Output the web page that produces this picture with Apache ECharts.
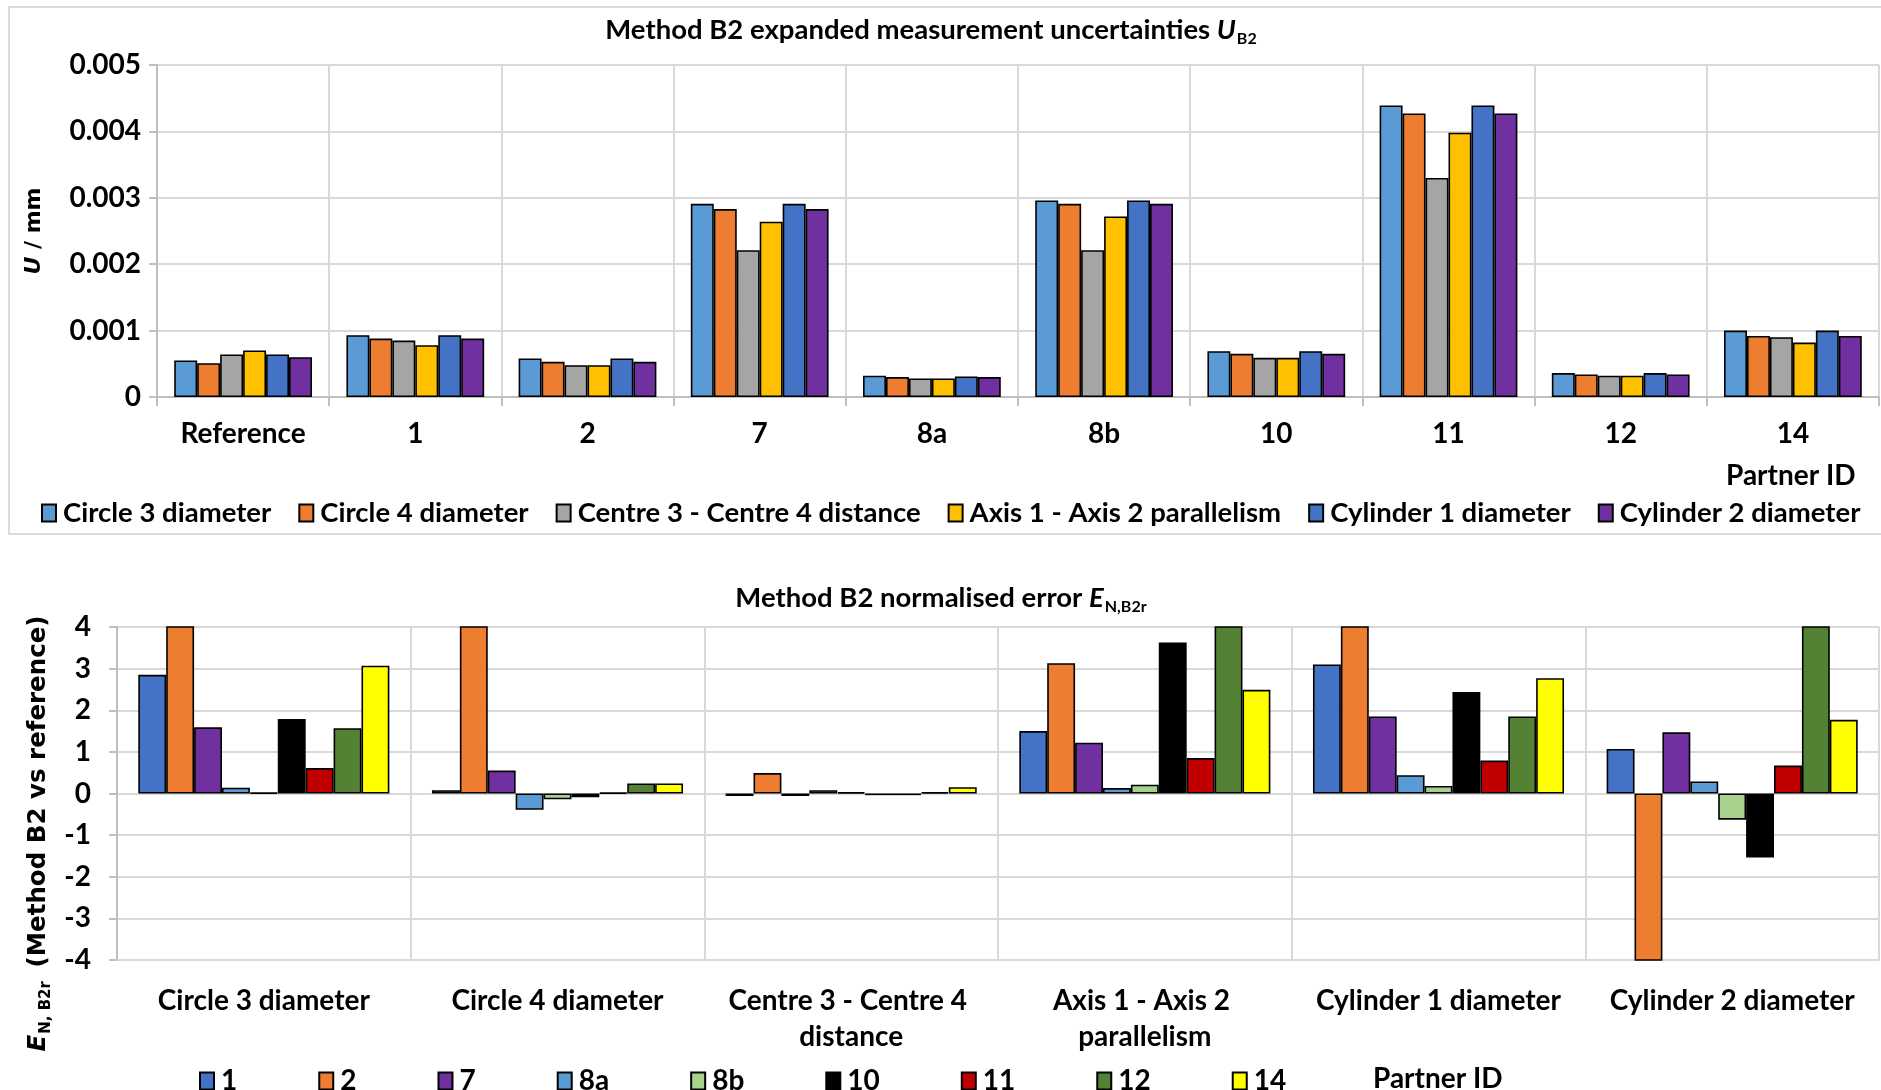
<!DOCTYPE html>
<html>
<head>
<meta charset="utf-8">
<script src="https://cdn.jsdelivr.net/npm/echarts@6/dist/echarts.min.js"></script>
<style>
html,body{margin:0;padding:0;background:#fff;}
#c{width:1881px;height:1090px;}
</style>
</head>
<body>
<div id="c"></div>
<script>
// ---------- Top chart data ----------
const partnersTop = ['Reference', '1', '2', '7', '8a', '8b', '10', '11', '12', '14'];
const measurands = ['Circle 3 diameter', 'Circle 4 diameter', 'Centre 3 - Centre 4 distance', 'Axis 1 - Axis 2 parallelism', 'Cylinder 1 diameter', 'Cylinder 2 diameter'];
const uCircle3  = [0.00055, 0.00093, 0.00058, 0.00291, 0.00032, 0.00296, 0.00069, 0.00439, 0.00036, 0.00100];
const uCircle4  = [0.00051, 0.00088, 0.00053, 0.00283, 0.00030, 0.00291, 0.00065, 0.00427, 0.00034, 0.00092];
const uCentre   = [0.00064, 0.00085, 0.00048, 0.00221, 0.00028, 0.00221, 0.00059, 0.00330, 0.00032, 0.00090];
const uAxis     = [0.00070, 0.00078, 0.00048, 0.00264, 0.00028, 0.00272, 0.00059, 0.00398, 0.00032, 0.00082];
const uCyl1     = [0.00064, 0.00093, 0.00058, 0.00291, 0.00031, 0.00296, 0.00069, 0.00439, 0.00036, 0.00100];
const uCyl2     = [0.00060, 0.00088, 0.00053, 0.00283, 0.00030, 0.00291, 0.00065, 0.00427, 0.00034, 0.00092];
const topColors = ['#5B9BD5', '#ED7D31', '#A5A5A5', '#FFC000', '#4472C4', '#7030A0'];

// ---------- Bottom chart data (values beyond ±4 are clipped in the original) ----------
const partnersBottom = ['1', '2', '7', '8a', '8b', '10', '11', '12', '14'];
const en1   = [2.85, 0.08, -0.06, 1.50, 3.10, 1.07];
const en2   = [6.00, 6.00, 0.49, 3.13, 6.00, -6.00];
const en7   = [1.59, 0.55, -0.06, 1.22, 1.85, 1.47];
const en8a  = [0.14, -0.39, 0.08, 0.13, 0.44, 0.29];
const en8b  = [0.02, -0.14, 0.03, 0.21, 0.18, -0.63];
const en10  = [1.79, -0.09, -0.04, 3.63, 2.44, -1.54];
const en11  = [0.61, 0.02, -0.04, 0.85, 0.79, 0.67];
const en12  = [1.57, 0.24, 0.03, 6.00, 1.85, 6.00];
const en14  = [3.07, 0.24, 0.15, 2.49, 2.77, 1.77];
const bottomColors = ['#4472C4', '#ED7D31', '#7030A0', '#5B9BD5', '#A9D18E', '#000000', '#C00000', '#548235', '#FFFF00'];

const topValues = [uCircle3, uCircle4, uCentre, uAxis, uCyl1, uCyl2];
const bottomValues = [en1, en2, en7, en8a, en8b, en10, en11, en12, en14];

const F = 'Lato, "Open Sans", sans-serif';
const FV = '"DejaVu Sans", Verdana, sans-serif';
const GRID = '#d9d9d9';
const AXIS = '#bfbfbf';
const FS = 28;

const chart = echarts.init(document.getElementById('c'), null, {renderer: 'canvas'});

const series = [];
measurands.forEach((m, i) => {
  series.push({
    name: m, type: 'bar', xAxisIndex: 0, yAxisIndex: 0,
    data: topValues[i], barGap: '0%', barCategoryGap: '20%',
    itemStyle: {color: topColors[i], borderColor: '#000', borderWidth: 1.6},
    animation: false
  });
});
partnersBottom.forEach((p, i) => {
  series.push({
    name: p, type: 'bar', xAxisIndex: 1, yAxisIndex: 1,
    data: bottomValues[i], barGap: '0%', barCategoryGap: '14.5%',
    itemStyle: {color: bottomColors[i], borderColor: '#000', borderWidth: 1.6},
    clip: true, animation: false
  });
});

const titleStyle = {
  fontFamily: F, fontWeight: 'bold', fontSize: 27.5, color: '#000', lineHeight: 34,
  rich: {
    i: {fontFamily: F, fontWeight: 'bold', fontStyle: 'italic', fontSize: 27.5, lineHeight: 34},
    s: {fontFamily: F, fontWeight: 'bold', fontSize: 16, verticalAlign: 'bottom', lineHeight: 34, padding: [0, 0, 0, 1]}
  }
};

const option = {
  backgroundColor: '#fff',
  animation: false,
  textStyle: {fontFamily: F},
  title: [
    {text: 'Method B2 expanded measurement uncertainties {i|U}{s|B2}', left: 926, top: 8, textAlign: 'center', textStyle: titleStyle},
    {text: 'Method B2 normalised error {i|E}{s|N,B2r}', left: 936, top: 576, textAlign: 'center', textStyle: titleStyle}
  ],
  legend: [
    {
      data: measurands, left: 36, top: 494, width: 1860, itemGap: 27, itemWidth: 14, itemHeight: 17,
      icon: 'rect',
      textStyle: {fontFamily: F, fontWeight: 'bold', fontSize: 27.5, color: '#000', padding: [0, 0, 0, 2]}
    },
    {
      data: partnersBottom, left: 194, top: 1062, width: 1600, itemGap: 81, itemWidth: 14, itemHeight: 17,
      icon: 'rect',
      textStyle: {fontFamily: F, fontWeight: 'bold', fontSize: FS, color: '#000', padding: [0, 0, 0, 2]}
    }
  ],
  grid: [
    {left: 157, right: 2, top: 65, height: 332, containLabel: false},
    {left: 117, right: 2, top: 627, height: 333, containLabel: false}
  ],
  xAxis: [
    {
      type: 'category', gridIndex: 0, data: partnersTop,
      axisLine: {show: true, lineStyle: {color: AXIS, width: 2}},
      axisTick: {show: true, length: 9, lineStyle: {color: AXIS, width: 2}},
      splitLine: {show: true, lineStyle: {color: GRID, width: 2}},
      axisLabel: {fontFamily: F, fontWeight: 'bold', fontSize: FS, color: '#000', margin: 23, interval: 0}
    },
    {
      type: 'category', gridIndex: 1, data: measurands, position: 'bottom',
      axisLine: {show: true, onZero: false, lineStyle: {color: GRID, width: 2}},
      axisTick: {show: false},
      splitLine: {show: true, lineStyle: {color: GRID, width: 2}},
      axisLabel: {
        fontFamily: F, fontWeight: 'bold', fontSize: FS, color: '#000', margin: 23, interval: 0,
        width: 270, overflow: 'break', lineHeight: 36
      }
    }
  ],
  yAxis: [
    {
      type: 'value', gridIndex: 0, min: 0, max: 0.005, interval: 0.001,
      name: '{i|U} / mm', nameLocation: 'middle', nameGap: 112, nameRotate: 90,
      nameTextStyle: {
        fontFamily: FV, fontWeight: 'bold', fontSize: 22, color: '#000',
        rich: {i: {fontFamily: FV, fontWeight: 'bold', fontStyle: 'italic', fontSize: 22}}
      },
      axisLine: {show: true, lineStyle: {color: AXIS, width: 2}},
      axisTick: {show: true, length: 8, lineStyle: {color: AXIS, width: 2}},
      splitLine: {show: true, lineStyle: {color: GRID, width: 2}},
      axisLabel: {
        fontFamily: F, fontWeight: 'bold', fontSize: FS, color: '#000', margin: 16,
        formatter: v => (v === 0 ? '0' : v.toFixed(3))
      }
    },
    {
      type: 'value', gridIndex: 1, min: -4, max: 4, interval: 1,
      name: '{i|E}{s|N, B2r} (Method B2 vs reference)', nameLocation: 'middle', nameGap: 59, nameRotate: 90,
      nameTextStyle: {
        fontFamily: FV, fontWeight: 'bold', fontSize: 24.5, color: '#000', lineHeight: 30,
        padding: [0, 80, 0, 0],
        rich: {
          i: {fontFamily: FV, fontWeight: 'bold', fontStyle: 'italic', fontSize: 24.5, lineHeight: 30},
          s: {fontFamily: FV, fontWeight: 'bold', fontSize: 15, verticalAlign: 'bottom', lineHeight: 30, padding: [0, 5, 0, 1]}
        }
      },
      axisLine: {show: true, lineStyle: {color: AXIS, width: 2}},
      axisTick: {show: true, length: 8, lineStyle: {color: AXIS, width: 2}},
      splitLine: {show: true, lineStyle: {color: GRID, width: 2}},
      axisLabel: {fontFamily: F, fontWeight: 'bold', fontSize: FS, color: '#000', margin: 26}
    }
  ],
  graphic: [
    {
      type: 'rect', z: -10, silent: true,
      shape: {x: 9, y: 7, width: 1890, height: 527},
      style: {fill: 'none', stroke: '#d0d0d0', lineWidth: 1.5}
    },
    {
      type: 'text', left: 1726, top: 462, silent: true,
      style: {text: 'Partner ID', fontFamily: F, fontWeight: 'bold', fontSize: FS, fill: '#000'}
    },
    {
      type: 'text', left: 1373, top: 1065, silent: true,
      style: {text: 'Partner ID', fontFamily: F, fontWeight: 'bold', fontSize: FS, fill: '#000'}
    }
  ],
  series: series
};
chart.setOption(option);
</script>
</body>
</html>
